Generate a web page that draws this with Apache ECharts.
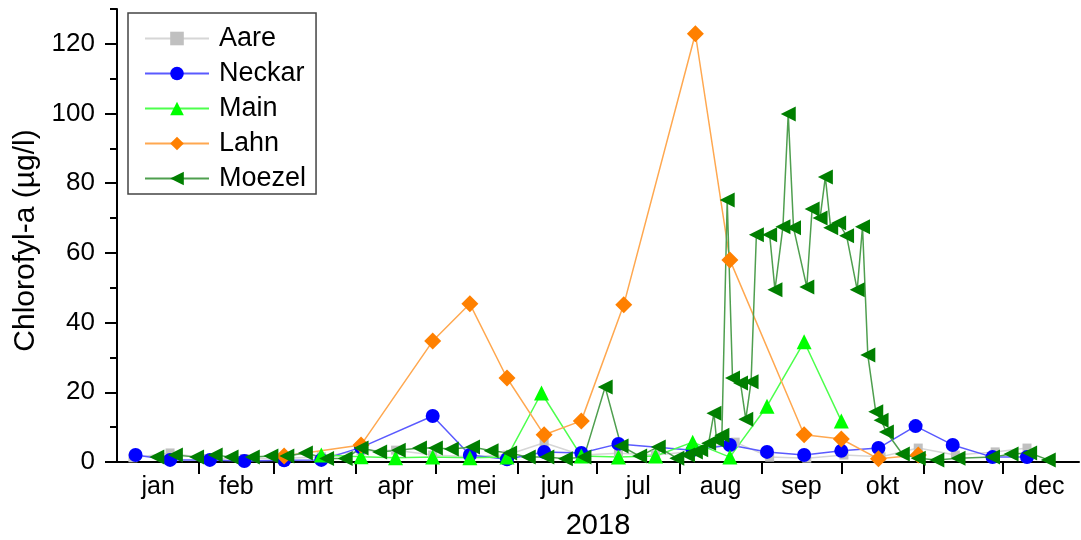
<!DOCTYPE html>
<html>
<head>
<meta charset="utf-8">
<script src="https://cdn.jsdelivr.net/npm/echarts@6/dist/echarts.min.js"></script>
<style>
  html, body { margin: 0; padding: 0; background: #ffffff; }
  #chart { width: 1081px; height: 540px; }
</style>
</head>
<body>
<div id="chart"></div>
<script>
// Month names (Dutch) shown under the date axis
const monthNames = ['jan', 'feb', 'mrt', 'apr', 'mei', 'jun', 'jul', 'aug', 'sep', 'okt', 'nov', 'dec'];

// Chlorophyll-a measurements 2018, [date, µg/l]
const aare = [
  ['2018-01-07', 1.2], ['2018-01-21', 2.6], ['2018-02-04', 1.0], ['2018-02-18', 1.0],
  ['2018-03-04', 1.0], ['2018-03-19', 1.5], ['2018-04-03', 3.2], ['2018-04-16', 3.4],
  ['2018-04-30', 2.0], ['2018-05-14', 1.5], ['2018-05-28', 2.0], ['2018-06-11', 5.5],
  ['2018-06-25', 2.0], ['2018-07-09', 2.5], ['2018-07-23', 2.0], ['2018-08-06', 3.0],
  ['2018-08-22', 5.7], ['2018-09-04', 1.4], ['2018-09-18', 1.1], ['2018-10-02', 2.0],
  ['2018-10-16', 1.5], ['2018-10-30', 4.0], ['2018-11-13', 2.0], ['2018-11-28', 2.9],
  ['2018-12-10', 4.0]
];

const neckar = [
  ['2018-01-08', 2.0], ['2018-01-21', 0.6], ['2018-02-05', 0.6], ['2018-02-18', 0.3],
  ['2018-03-05', 0.5], ['2018-03-19', 0.6], ['2018-04-03', 4.2], ['2018-04-30', 13.2],
  ['2018-05-14', 2.0], ['2018-05-28', 0.8], ['2018-06-11', 2.9], ['2018-06-25', 2.6],
  ['2018-07-09', 5.2], ['2018-08-06', 3.4], ['2018-08-20', 4.9], ['2018-09-03', 2.9],
  ['2018-09-17', 2.0], ['2018-10-01', 3.2], ['2018-10-15', 4.0], ['2018-10-29', 10.3],
  ['2018-11-12', 4.9], ['2018-11-27', 1.4], ['2018-12-10', 1.4]
];

const main = [
  ['2018-03-19', 2.0], ['2018-04-03', 1.5], ['2018-04-16', 1.2], ['2018-04-30', 1.4],
  ['2018-05-14', 1.2], ['2018-05-28', 1.4], ['2018-06-10', 19.8], ['2018-06-25', 1.7],
  ['2018-07-09', 1.4], ['2018-07-23', 1.7], ['2018-08-06', 5.7], ['2018-08-20', 1.4],
  ['2018-09-03', 16.0], ['2018-09-17', 34.5], ['2018-10-01', 11.8]
];

const lahn = [
  ['2018-03-05', 1.7], ['2018-04-03', 4.9], ['2018-04-30', 34.7], ['2018-05-14', 45.4],
  ['2018-05-28', 24.1], ['2018-06-11', 7.8], ['2018-06-25', 11.8], ['2018-07-11', 45.1],
  ['2018-08-07', 122.9], ['2018-08-20', 58.0], ['2018-09-17', 7.8], ['2018-10-01', 6.6],
  ['2018-10-15', 0.9], ['2018-10-30', 2.0]
];

const moezel = [
  ['2018-01-16', 1.4], ['2018-01-23', 2.0], ['2018-01-31', 1.4], ['2018-02-07', 2.0],
  ['2018-02-13', 1.4], ['2018-02-21', 1.4], ['2018-02-28', 1.7], ['2018-03-06', 1.7],
  ['2018-03-13', 2.6], ['2018-03-21', 1.0], ['2018-03-28', 1.0], ['2018-04-03', 4.0],
  ['2018-04-10', 2.9], ['2018-04-17', 3.4], ['2018-04-25', 4.0], ['2018-05-01', 4.0],
  ['2018-05-07', 3.7], ['2018-05-15', 4.3], ['2018-05-22', 3.2], ['2018-05-29', 2.6],
  ['2018-06-05', 1.4], ['2018-06-12', 1.4], ['2018-06-19', 0.9], ['2018-06-26', 1.4],
  ['2018-07-04', 21.5], ['2018-07-10', 4.6], ['2018-07-17', 1.7], ['2018-07-24', 4.3],
  ['2018-07-31', 1.1], ['2018-08-04', 2.0], ['2018-08-07', 2.9], ['2018-08-09', 3.5],
  ['2018-08-12', 5.4], ['2018-08-14', 14.0], ['2018-08-15', 6.3], ['2018-08-17', 7.7],
  ['2018-08-19', 75.2], ['2018-08-21', 24.1], ['2018-08-24', 22.7], ['2018-08-26', 12.3],
  ['2018-08-28', 23.0], ['2018-08-30', 65.2], ['2018-09-04', 65.2], ['2018-09-06', 49.4],
  ['2018-09-09', 67.5], ['2018-09-11', 99.9], ['2018-09-13', 67.2], ['2018-09-18', 50.2],
  ['2018-09-20', 72.6], ['2018-09-23', 70.0], ['2018-09-25', 81.8], ['2018-09-27', 67.2],
  ['2018-09-30', 68.6], ['2018-10-03', 64.9], ['2018-10-07', 49.4], ['2018-10-09', 67.5],
  ['2018-10-11', 30.7], ['2018-10-14', 14.4], ['2018-10-16', 12.0], ['2018-10-18', 8.6],
  ['2018-10-24', 2.3], ['2018-10-30', 1.1], ['2018-11-06', 0.6], ['2018-11-14', 1.1],
  ['2018-11-27', 1.4], ['2018-12-04', 2.3], ['2018-12-11', 2.6], ['2018-12-18', 0.6]
];

// Y axis ticks: labelled major ticks and short minor ticks in between
const yMajorTicks = [0, 20, 40, 60, 80, 100, 120];
const yMinorTicks = [10, 30, 50, 70, 90, 110, 130];

// Dates become day numbers (0 = 1 January 2018) on a plain value axis
const DAY = 86400000;
const T0 = Date.UTC(2018, 0, 1);
function dayOf(iso) {
  const p = iso.split('-').map(Number);
  return (Date.UTC(p[0], p[1] - 1, p[2]) - T0) / DAY;
}
function toDays(rows) {
  return rows.map(function (r) { return [dayOf(r[0]), r[1]]; });
}

// Month boundaries carry the tick marks, month centres carry the names
const monthStarts = [];
const monthMids = [];
for (let m = 0; m < 12; m++) {
  const s = (Date.UTC(2018, m, 1) - T0) / DAY;
  const e = (Date.UTC(2018, m + 1, 1) - T0) / DAY;
  if (m > 0) monthStarts.push(s);
  monthMids.push((s + e) / 2);
}
function monthOfDay(d) {
  for (let m = 11; m >= 0; m--) {
    if (d >= (Date.UTC(2018, m, 1) - T0) / DAY) return m;
  }
  return 0;
}

const FONT = '"Liberation Sans", Arial, Helvetica, sans-serif';
const leftTriangle = 'path://M0,5 L10,0 L10,10 Z';

function lineSeries(name, rows, symbol, size, markerColor, lineColor) {
  return {
    name: name,
    type: 'line',
    data: toDays(rows),
    symbol: symbol,
    symbolSize: size,
    showAllSymbol: true,
    animation: false,
    itemStyle: { color: markerColor },
    lineStyle: { color: lineColor, width: 1.5 },
    emphasis: { disabled: true }
  };
}

const chart = echarts.init(document.getElementById('chart'), null, { renderer: 'canvas' });

chart.setOption({
  backgroundColor: '#ffffff',
  animation: false,
  textStyle: { fontFamily: FONT },
  grid: { left: 117, right: 2, top: 9, bottom: 78, containLabel: false, outerBoundsMode: 'none' },
  legend: {
    orient: 'vertical',
    left: 128,
    top: 13,
    padding: [12, 10, 2, 16],
    itemWidth: 64,
    itemHeight: 17,
    itemGap: 8,
    borderColor: '#444444',
    borderWidth: 1.5,
    textStyle: { fontSize: 27, fontFamily: FONT, color: '#000000', lineHeight: 27, padding: [0, 0, 0, 5] },
    data: ['Aare', 'Neckar', 'Main', 'Lahn', 'Moezel']
  },
  xAxis: {
    type: 'value',
    min: 0,
    max: 362.6,
    name: '2018',
    nameLocation: 'middle',
    nameGap: 49,
    nameTextStyle: { fontSize: 29, fontFamily: FONT, color: '#000000' },
    axisLine: { show: true, onZero: false, lineStyle: { color: '#000000', width: 2 } },
    axisTick: { show: true, inside: false, length: 12, lineStyle: { color: '#000000', width: 2 }, customValues: monthStarts },
    axisLabel: {
      show: true,
      customValues: monthMids,
      margin: 13,
      fontSize: 25,
      fontFamily: FONT,
      color: '#000000',
      formatter: function (v) { return monthNames[monthOfDay(v)]; }
    },
    splitLine: { show: false },
    minorTick: { show: false }
  },
  yAxis: [
    {
      type: 'value',
      min: 0,
      max: 130,
      position: 'left',
      name: 'Chlorofyl-a (µg/l)',
      nameLocation: 'middle',
      nameGap: 71,
      nameTextStyle: { fontSize: 30, fontFamily: FONT, color: '#000000', padding: [0, 10, 0, 0] },
      axisLine: { show: true, lineStyle: { color: '#000000', width: 2 } },
      axisTick: { show: true, inside: false, length: 12, lineStyle: { color: '#000000', width: 2 }, customValues: yMajorTicks },
      axisLabel: { show: true, customValues: yMajorTicks, margin: 22, fontSize: 26, fontFamily: FONT, color: '#000000' },
      splitLine: { show: false }
    },
    {
      type: 'value',
      min: 0,
      max: 130,
      position: 'left',
      axisLine: { show: false },
      axisTick: { show: true, inside: false, length: 7, lineStyle: { color: '#000000', width: 2 }, customValues: yMinorTicks },
      axisLabel: { show: false },
      splitLine: { show: false }
    }
  ],
  series: [
    lineSeries('Aare', aare, 'rect', 9, '#c0c0c0', '#d6d6d6'),
    lineSeries('Neckar', neckar, 'circle', 14, '#0000ff', '#5a5aff'),
    lineSeries('Main', main, 'triangle', 15, '#00ff00', '#4dff4d'),
    lineSeries('Lahn', lahn, 'diamond', 17, '#ff8000', '#ffa850'),
    lineSeries('Moezel', moezel, leftTriangle, 15, '#007f00', '#4f9f4f')
  ]
});
</script>
</body>
</html>
